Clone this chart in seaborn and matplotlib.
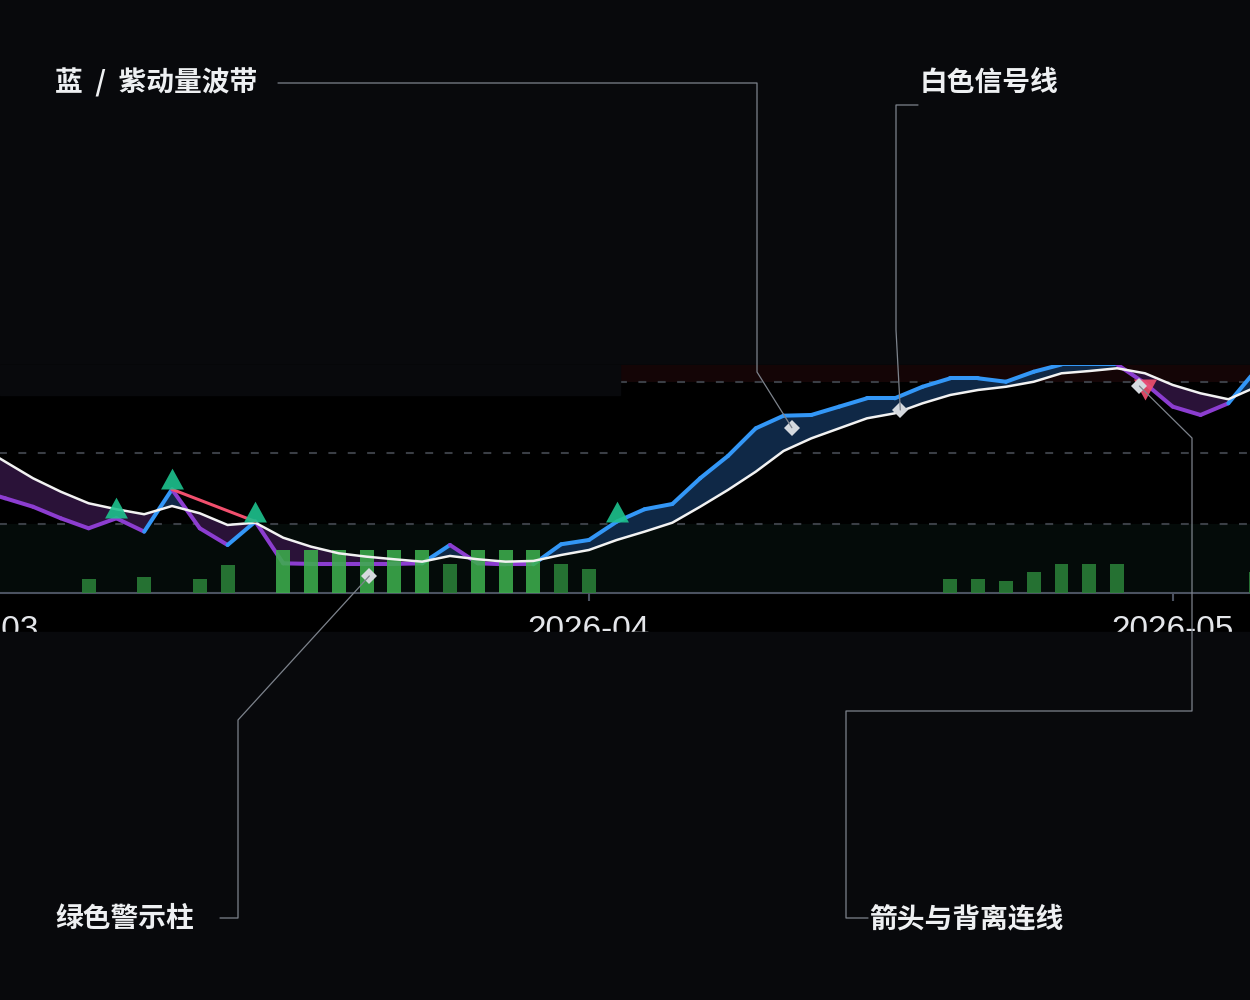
import numpy as np
import seaborn as sns
import matplotlib.pyplot as plt
from matplotlib.patches import Rectangle
from matplotlib.lines import Line2D

# trading-day index, -1 is the first March session
day = list(range(-1, 46))

# white signal line
signal = [6.7, -7.3, -21.2, -32.5, -42.2, -47.2, -51.4, -44.5, -50.6, -60.4,
          -58.5, -71.1, -78.6, -84.2, -87.0, -89.2, -91.2, -86.4, -89.2, -91.2,
          -90.6, -85.6, -81.4, -73.0, -66.0, -58.5, -45.1, -31.0, -15.7, 1.7,
          12.3, 20.7, 29.1, 33.3, 41.7, 48.7, 52.9, 55.6, 59.8, 66.9,
          68.8, 71.1, 66.9, 57.1, 50.1, 45.1, 55.4]

# blue / purple momentum line
momentum = [-31.0, -38.0, -45.1, -54.8, -63.2, -54.8, -66.0, -30.5, -63.2, -77.2,
            -57.5, -92.6, -93.1, -93.1, -93.1, -93.1, -92.6, -77.2, -92.6, -93.4,
            -93.4, -76.6, -73.0, -57.6, -47.2, -42.8, -21.2, -2.5, 20.7, 31.3,
            31.9, 38.9, 45.9, 45.9, 55.6, 62.7, 62.7, 59.8, 68.2, 74.3,
            74.3, 74.3, 58.5, 38.9, 31.9, 41.7, 69.7]

# green warning bars
warn_day = [3, 5, 7, 8, 10, 11, 12, 13, 14, 15, 16, 17, 18, 19, 20, 21,
            34, 35, 36, 37, 38, 39, 40, 45]
warn_height = [12.0, 13.7, 12.0, 23.7, 36.1, 36.1, 36.1, 36.1, 36.1, 36.1, 24.3, 36.1,
               36.1, 36.1, 24.3, 20.1, 12.0, 12.0, 9.8, 17.9, 24.1, 24.1, 24.1, 17.9]

# signal arrows and divergence line
up_day = [4, 6, 9, 22]
down_day = [41]
div_day = [6, 9]

levels = [60, 0, -60]
tick_day = [-1, 21, 42]
tick_label = ['2026-03', '2026-04', '2026-05']

# callouts: text, text position (px), path corners (px), anchor in data
callout_text = ['蓝  /  紫动量波带', '白色信号线', '绿色警示柱', '箭头与背离连线']
callout_xy = [(55, 83), (920, 83), (55, 919), (869, 919)]
callout_path = [[(278, 83), (757, 83), (757, 372)],
                [(918, 105), (896, 105), (896, 330)],
                [(220, 918), (238, 918), (238, 720)],
                [(868, 918), (846, 918), (846, 711), (1192, 711), (1192, 438)]]
callout_at = [(28.3, 21.2), (32.2, 36.1), (13.1, -103.2), (40.8, 56.2)]

BG = '#08090c'
BLUE = '#3397f7'
PURPLE = '#8c3dd0'
Y0, Y1 = -117.5, 73.85
# axes runs a little past the left edge so the March label is cut like the reference
AX_LEFT = -40
X0, X1 = (AX_LEFT - 5.2) / 27.8, 44.78

sns.set_theme(style='dark', rc={'figure.facecolor': BG, 'axes.facecolor': 'black'})
plt.rcParams['font.family'] = ['Noto Sans CJK SC', 'DejaVu Sans']

fig = plt.figure(figsize=(12.5, 10), dpi=100)
W, H = 1250, 1000


def fx(px):
    return px / W


def fy(py):
    return 1 - py / H


# black strip behind the chart and tick labels
fig.add_artist(Rectangle((0, fy(632)), 1, fy(365) - fy(632), transform=fig.transFigure,
                         color='black', zorder=-1))

ax = fig.add_axes([fx(AX_LEFT), fy(593), fx(1250 - AX_LEFT), fy(365) - fy(593)])

# zones and level lines
ax.axhspan(levels[0], Y1 + 20, color='#140506', lw=0, zorder=0)
ax.axhspan(Y0 - 20, levels[2], color='#040b09', lw=0, zorder=0)
for lv in levels:
    ax.axhline(lv, color='#3a3e45', lw=1.5, ls=(0, (3.8, 5.5)), zorder=1)

mom = np.array(momentum)
sig = np.array(signal)
ax.fill_between(day, mom, sig, where=mom >= sig, interpolate=True, color='#0f2846', lw=0, zorder=2)
ax.fill_between(day, mom, sig, where=mom < sig, interpolate=True, color='#2a1238', lw=0, zorder=2)

# momentum line coloured per segment
for i in range(1, len(day)):
    c = BLUE if mom[i] >= sig[i] else PURPLE
    ax.plot(day[i - 1:i + 1], momentum[i - 1:i + 1], color=c, lw=2.9,
            solid_capstyle='round', zorder=3)

bar_colors = ['#3dae4d' if h > 30 else '#2a8038' for h in warn_height]
ax.bar(warn_day, warn_height, bottom=Y0, width=0.5, color=bar_colors, alpha=0.88,
       lw=0, zorder=4)

sns.lineplot(x=day, y=signal, color='#f2f2f2', lw=1.8, ax=ax, zorder=5)

ax.plot(div_day, [momentum[d + 1] for d in div_day], color='#f2506e', lw=2.2, zorder=5.5)

up_marker = [(-0.55, 0), (0.55, 0), (0, 1)]
down_marker = [(-0.55, 0.19), (0.55, 0.19), (0, -0.81)]
ax.plot(up_day, [momentum[d + 1] for d in up_day], ls='none', marker=up_marker, ms=30,
        mew=0, color='#1ec28e', alpha=0.9, zorder=6)
ax.plot(down_day, [momentum[d + 1] for d in down_day], ls='none', marker=down_marker,
        ms=24.5, mew=0, color='#f2506e', alpha=0.9, zorder=6)

# axes cosmetics
for s in ['top', 'left', 'right']:
    ax.spines[s].set_visible(False)
ax.spines['bottom'].set_color('#4b5260')
ax.spines['bottom'].set_linewidth(1.5)
ax.set_xticks(tick_day)
ax.set_xticklabels(tick_label, fontfamily='Liberation Sans', fontsize=24, color='#e4e6ea')
ax.set_yticks([])
ax.tick_params(axis='x', bottom=True, length=5.8, width=1.5, color='#4b5260', pad=10)
ax.grid(False)
ax.set_xlabel('')
ax.set_ylabel('')
ax.set_xlim(X0, X1)
ax.set_ylim(Y0, Y1)

# covers that crop the chart like the reference
fig.add_artist(Rectangle((0, fy(395)), fx(620), fy(365) - fy(395), transform=fig.transFigure,
                         color=BG, zorder=5))
fig.add_artist(Rectangle((0, 0), 1, fy(632), transform=fig.transFigure, color=BG, zorder=5))

# callouts
for text, (tx, ty), path, at in zip(callout_text, callout_xy, callout_path, callout_at):
    ex, ey = ax.transData.transform(at)
    xs = [fx(p[0]) for p in path] + [ex / W]
    ys = [fy(p[1]) for p in path] + [ey / H]
    fig.add_artist(Line2D(xs, ys, transform=fig.transFigure, color='#7d838c', lw=0.9, zorder=7))
    ax.plot([at[0]], [at[1]], ls='none', marker='D', ms=8.5, mew=0, color='#d5d9de',
            zorder=8, clip_on=False)
    fig.text(fx(tx), fy(ty), text, ha='left', va='center', fontsize=20, fontweight='bold',
             color='#eef0f2', zorder=8)

fig.savefig('out.png', dpi=100, facecolor=BG)
